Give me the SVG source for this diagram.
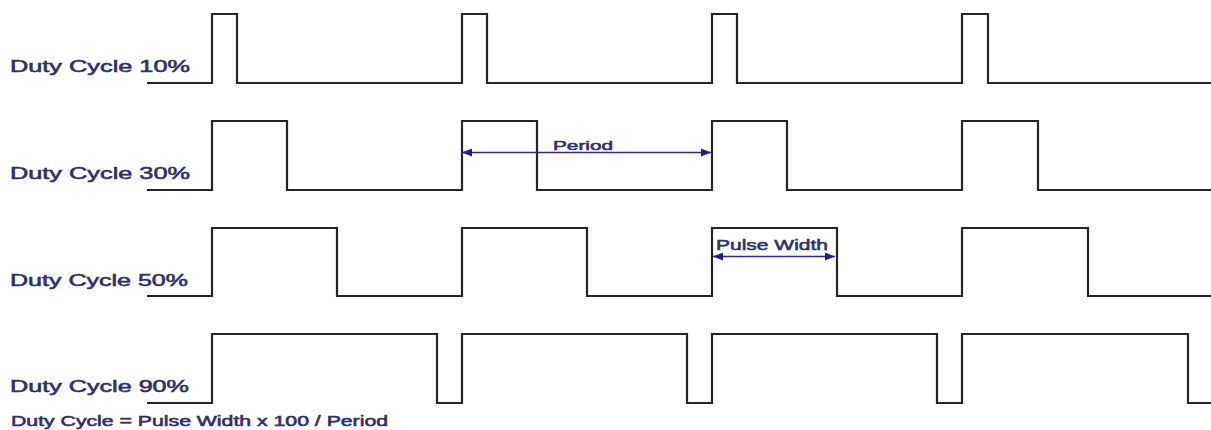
<svg xmlns="http://www.w3.org/2000/svg" width="1211" height="430" viewBox="0 0 1211 430">
<style>
.wave{fill:none;stroke:#262626;stroke-width:2.2;stroke-linejoin:miter}
.lbl{font-family:"Liberation Sans",Arial,sans-serif;fill:#2f2f6c;stroke:#2f2f6c;stroke-width:0.55;font-size:16px}
.dim{stroke:#2a2a8a;stroke-width:1.3;fill:none}
</style>
<defs>
<marker id="ah" viewBox="0 0 10 8" refX="10" refY="4" markerWidth="10" markerHeight="8" markerUnits="userSpaceOnUse" orient="auto-start-reverse">
<path d="M0,0 L10,4 L0,8 Z" fill="#1f1f8a"/>
</marker>
</defs>
<rect width="1211" height="430" fill="#ffffff"/>
<g id="row10">
<text class="lbl" x="10" y="72" textLength="180" lengthAdjust="spacingAndGlyphs">Duty Cycle 10%</text>
<path class="wave" d="M147,83 H212 V14 H237 V83 H462 V14 H487 V83 H712 V14 H737 V83 H962 V14 H988 V83 H1211"/>
</g>
<g id="row30">
<text class="lbl" x="10" y="179" textLength="180" lengthAdjust="spacingAndGlyphs">Duty Cycle 30%</text>
<path class="wave" d="M147,190 H212 V121 H287 V190 H462 V121 H537 V190 H712 V121 H787 V190 H962 V121 H1038 V190 H1211"/>
</g>
<g id="row50">
<text class="lbl" x="10" y="286" textLength="178" lengthAdjust="spacingAndGlyphs">Duty Cycle 50%</text>
<path class="wave" d="M147,296 H212 V228 H337 V296 H462 V228 H587 V296 H712 V228 H837 V296 H962 V228 H1088 V296 H1211"/>
</g>
<g id="row90">
<text class="lbl" x="10" y="392" textLength="179" lengthAdjust="spacingAndGlyphs">Duty Cycle 90%</text>
<path class="wave" d="M147,403 H212 V334 H437 V403 H462 V334 H687 V403 H712 V334 H937 V403 H962 V334 H1188 V403 H1211"/>
</g>
<g id="connectors">
<line class="dim" x1="462" y1="152.5" x2="711" y2="152.5" marker-start="url(#ah)" marker-end="url(#ah)"/>
<line class="dim" x1="713" y1="256.5" x2="835" y2="256.5" marker-start="url(#ah)" marker-end="url(#ah)"/>
</g>
<g id="period-label">
<text class="lbl" x="553" y="150" style="font-size:13px" textLength="60" lengthAdjust="spacingAndGlyphs">Period</text>
</g>
<g id="pulse-label">
<text class="lbl" x="716" y="250" style="font-size:15px" textLength="112" lengthAdjust="spacingAndGlyphs">Pulse Width</text>
</g>
<g id="formula">
<text class="lbl" x="11" y="426" style="font-size:14px" textLength="377" lengthAdjust="spacingAndGlyphs">Duty Cycle = Pulse Width x 100 / Period</text>
</g>
</svg>
